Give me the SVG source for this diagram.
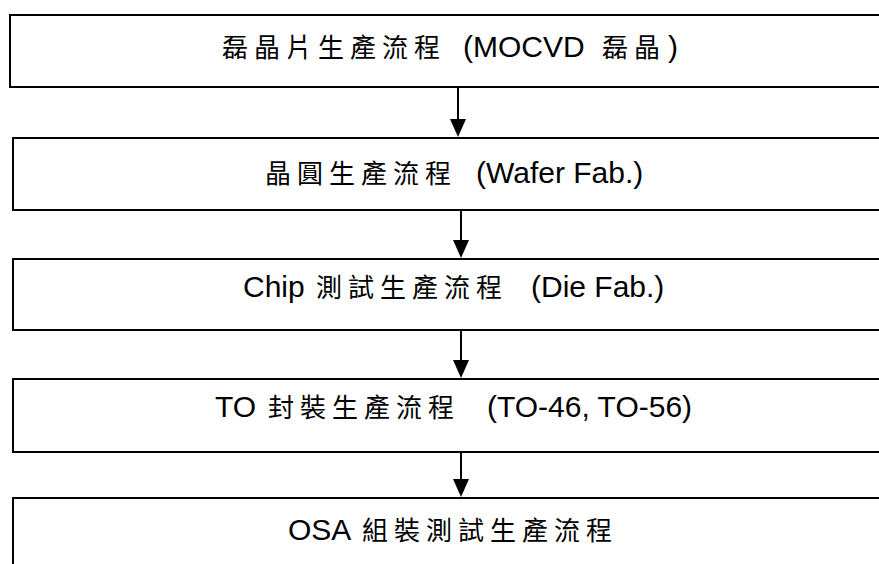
<svg xmlns="http://www.w3.org/2000/svg" width="879" height="564" viewBox="0 0 879 564">
<style>
.box{fill:#fff;stroke:#000;stroke-width:2}
.lat{font-family:"Liberation Sans",Arial,sans-serif;font-size:30px;fill:#000}
.cjk{font-family:"Noto Sans CJK TC","Noto Sans CJK SC",sans-serif;font-size:26px;letter-spacing:6px;fill:#000}
.con{stroke:#000;stroke-width:2;fill:none}
.head{fill:#000}
</style>
<rect width="879" height="564" fill="#fff"/>
<g id="connectors">
<line class="con" x1="458" y1="87" x2="458" y2="121"/>
<path class="head" d="M450,119 L466,119 L458,137 Z"/>
<line class="con" x1="461" y1="210" x2="461" y2="242"/>
<path class="head" d="M453,240 L469,240 L461,258 Z"/>
<line class="con" x1="461" y1="330" x2="461" y2="362"/>
<path class="head" d="M453,360 L469,360 L461,378 Z"/>
<line class="con" x1="461" y1="452" x2="461" y2="481"/>
<path class="head" d="M453,479 L469,479 L461,497 Z"/>
</g>
<g id="n1">
<rect class="box" x="10" y="15" width="880" height="72"/>
<text y="57"><tspan class="cjk" x="222">磊晶片生產流程</tspan><tspan class="lat" x="463">(MOCVD</tspan><tspan class="cjk" x="602">磊晶</tspan><tspan class="lat" x="668">)</tspan></text>
</g>
<g id="n2">
<rect class="box" x="13" y="138" width="880" height="72"/>
<text y="183"><tspan class="cjk" x="265">晶圓生產流程</tspan><tspan class="lat" x="476">(Wafer Fab.)</tspan></text>
</g>
<g id="n3">
<rect class="box" x="13" y="259" width="880" height="71"/>
<text y="297"><tspan class="lat" x="243">Chip</tspan><tspan class="cjk" x="316">測試生產流程</tspan><tspan class="lat" x="531">(Die Fab.)</tspan></text>
</g>
<g id="n4">
<rect class="box" x="13" y="379" width="880" height="73"/>
<text y="417"><tspan class="lat" x="215">TO</tspan><tspan class="cjk" x="268">封裝生產流程</tspan><tspan class="lat" x="487">(TO-46, TO-56)</tspan></text>
</g>
<g id="n5">
<rect class="box" x="13" y="498" width="880" height="80"/>
<text y="540"><tspan class="lat" x="288">OSA</tspan><tspan class="cjk" x="362">組裝測試生產流程</tspan></text>
</g>
</svg>
